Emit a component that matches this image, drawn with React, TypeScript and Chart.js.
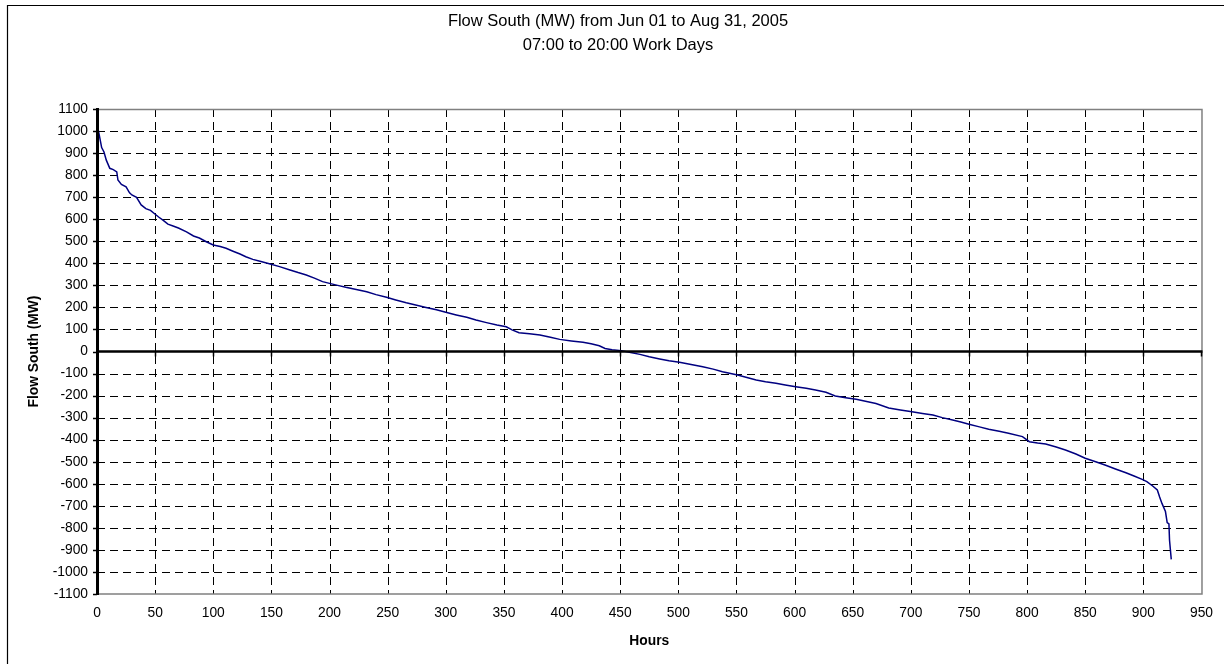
import React, { useEffect, useRef } from "react";
import { Chart, registerables } from "chart.js";
Chart.register(...registerables);

const titleLines = ["Flow South (MW) from Jun 01 to Aug 31, 2005", "07:00 to 20:00 Work Days"];
const yAxisTitle = "Flow South (MW)";
const xAxisTitle = "Hours";
const xMin = 0;
const xMax = 950;
const xStep = 50;
const yMin = -1100;
const yMax = 1100;
const yStep = 100;

const hours = [
  0, 2, 4, 6, 8, 11, 14, 17, 18, 21, 25, 28, 30, 34, 38, 42, 46, 49, 53, 57,
  61, 66, 70, 77, 83, 88, 94, 100, 106, 111, 117, 123, 128, 134, 141, 149, 157, 166, 173, 180,
  187, 194, 200, 207, 214, 223, 232, 240, 249, 257, 266, 275, 283, 292, 300, 309, 318, 326, 335, 344,
  352, 357, 363, 372, 381, 390, 398, 408, 418, 425, 432, 437, 443, 451, 459, 467, 475, 484, 492, 501,
  511, 521, 530, 538, 551, 559, 567, 575, 584, 592, 601, 610, 618, 627, 635, 644, 653, 661, 670, 681,
  691, 701, 710, 719, 727, 736, 743, 750, 759, 767, 776, 784, 796, 802, 809, 816, 825, 833, 842, 850,
  859, 867, 876, 885, 892, 899, 903, 908, 912, 914, 916, 919, 920.5, 922, 922.5, 924,
];
const flowSouth = [
  1035, 980, 925, 905, 868, 831, 825, 815, 778, 758, 747, 720, 710, 699, 665, 648, 640, 627, 610, 595,
  578, 568, 560, 543, 524, 515, 498, 483, 476, 468, 455, 442, 430, 418, 408, 397, 385, 370, 358, 347,
  333, 317, 309, 300, 291, 281, 271, 258, 246, 234, 221, 210, 200, 189, 178, 166, 155, 143, 131, 120,
  112, 98, 85, 80, 75, 65, 55, 48, 42, 35, 26, 14, 8, 4, -5, -13, -24, -34, -42, -49,
  -59, -69, -80, -92, -107, -118, -129, -137, -144, -152, -160, -167, -175, -185, -202, -210, -217, -226, -236, -256,
  -265, -273, -281, -288, -300, -311, -320, -330, -342, -353, -362, -371, -386, -409, -415, -420, -433, -447, -465, -484,
  -500, -515, -533, -550, -565, -580, -590, -610, -628, -660, -689, -726, -776, -782, -855, -943,
];

const FONT = "'Liberation Sans', Arial, sans-serif";

export default function App() {
  const ref = useRef<HTMLCanvasElement>(null);

  useEffect(() => {
    document.body.style.margin = "0";
    const canvas = ref.current!;

    const decor = {
      id: "decor",
      beforeDraw(chart: any) {
        const { ctx, width, height } = chart;
        ctx.save();
        ctx.fillStyle = "#fff";
        ctx.fillRect(0, 0, width, height);
        ctx.restore();
      },
      beforeDatasetsDraw(chart: any) {
        const { ctx, chartArea: a, scales } = chart;
        const x = scales.x;
        const y = scales.y;
        ctx.save();
        ctx.strokeStyle = "#000";
        ctx.lineWidth = 1;
        ctx.setLineDash([8, 5]);
        y.ticks.forEach((t: any) => {
          if (t.value === 0 || t.value === yMin || t.value === yMax) return;
          const py = Math.round(y.getPixelForValue(t.value)) + 0.5;
          ctx.beginPath();
          ctx.moveTo(a.left, py);
          ctx.lineTo(a.right, py);
          ctx.stroke();
        });
        x.ticks.forEach((t: any) => {
          if (t.value === xMin || t.value === xMax) return;
          const px = Math.round(x.getPixelForValue(t.value)) + 0.5;
          ctx.beginPath();
          ctx.moveTo(px, a.top);
          ctx.lineTo(px, a.bottom);
          ctx.stroke();
        });
        ctx.setLineDash([]);
        ctx.strokeStyle = "#808080";
        ctx.lineWidth = 1.5;
        ctx.beginPath();
        ctx.moveTo(a.left, a.top + 0.5);
        ctx.lineTo(a.right + 0.5, a.top + 0.5);
        ctx.lineTo(a.right + 0.5, a.bottom);
        ctx.lineTo(a.left, a.bottom);
        ctx.stroke();
        ctx.restore();
      },
      afterDatasetsDraw(chart: any) {
        const { ctx, chartArea: a, scales } = chart;
        const x = scales.x;
        const y = scales.y;
        ctx.save();
        ctx.strokeStyle = "#000";
        const py0 = y.getPixelForValue(0);
        ctx.lineWidth = 2.5;
        ctx.beginPath();
        ctx.moveTo(a.left, py0);
        ctx.lineTo(a.right + 1, py0);
        ctx.stroke();
        ctx.lineWidth = 1.5;
        x.ticks.forEach((t: any) => {
          const px = Math.round(x.getPixelForValue(t.value)) + 0.5;
          ctx.beginPath();
          ctx.moveTo(px, py0);
          ctx.lineTo(px, py0 + 5);
          ctx.stroke();
        });
        ctx.lineWidth = 3;
        ctx.beginPath();
        ctx.moveTo(a.left + 0.5, a.top - 1);
        ctx.lineTo(a.left + 0.5, a.bottom + 1);
        ctx.stroke();
        ctx.lineWidth = 1.5;
        y.ticks.forEach((t: any) => {
          const py = Math.round(y.getPixelForValue(t.value)) + 0.5;
          ctx.beginPath();
          ctx.moveTo(a.left - 4, py);
          ctx.lineTo(a.left, py);
          ctx.stroke();
        });
        ctx.restore();
      },
      afterDraw(chart: any) {
        const { ctx, width, height, chartArea: a } = chart;
        ctx.save();
        ctx.strokeStyle = "#000";
        ctx.lineWidth = 1.2;
        ctx.beginPath();
        ctx.moveTo(7.5, height + 2);
        ctx.lineTo(7.5, 5.5);
        ctx.lineTo(width + 2, 5.5);
        ctx.stroke();
        ctx.fillStyle = "#000";
        ctx.textAlign = "center";
        ctx.textBaseline = "middle";
        ctx.font = `16.5px ${FONT}`;
        ctx.fillText(titleLines[0], 618, 21);
        ctx.fillText(titleLines[1], 618, 45);
        ctx.font = `bold 13.8px ${FONT}`;
        ctx.fillText(xAxisTitle, (a.left + a.right) / 2, 641);
        ctx.translate(34, (a.top + a.bottom) / 2);
        ctx.rotate(-Math.PI / 2);
        ctx.fillText(yAxisTitle, 0, 0);
        ctx.restore();
      },
    };

    const chart = new Chart(canvas, {
      type: "line",
      data: {
        datasets: [
          {
            data: hours.map((h, i) => ({ x: h, y: flowSouth[i] })),
            borderColor: "#000080",
            borderWidth: 1.5,
            pointRadius: 0,
            fill: false,
            tension: 0,
          },
        ],
      },
      options: {
        responsive: false,
        animation: false,
        devicePixelRatio: 1,
        layout: { padding: { left: 0, right: 21, top: 109, bottom: 0 } },
        plugins: {
          legend: { display: false },
          tooltip: { enabled: false },
          title: { display: false },
        },
        scales: {
          x: {
            type: "linear",
            min: xMin,
            max: xMax,
            ticks: {
              stepSize: xStep,
              autoSkip: false,
              maxRotation: 0,
              padding: 11,
              color: "#000",
              font: { family: FONT, size: 13.8 },
              callback: (v: any) => String(v),
            },
            grid: { display: false, drawTicks: false },
            border: { display: false },
            afterFit: (s: any) => {
              s.height = 70;
            },
          },
          y: {
            type: "linear",
            min: yMin,
            max: yMax,
            ticks: {
              stepSize: yStep,
              autoSkip: false,
              padding: 9,
              color: "#000",
              font: { family: FONT, size: 13.8 },
              callback: (v: any) => String(v),
            },
            grid: { display: false, drawTicks: false },
            border: { display: false },
            afterFit: (s: any) => {
              s.width = 97;
            },
          },
        },
      },
      plugins: [decor],
    } as any);

    return () => chart.destroy();
  }, []);

  return <canvas ref={ref} width={1224} height={664} style={{ display: "block" }} />;
}
